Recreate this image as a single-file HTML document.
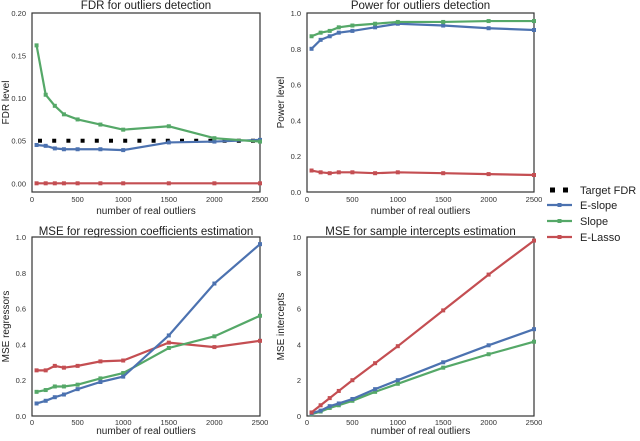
<!DOCTYPE html>
<html><head><meta charset="utf-8"><style>
body{margin:0;background:#fff;}
svg{display:block;font-family:"Liberation Sans",sans-serif;}
</style></head><body>
<svg id="c" width="640" height="441" viewBox="0 0 640 441"></svg>
<script>
const xs=[50,150,250,350,500,750,1000,1500,2000,2500];
const xTicks=[0,500,1000,1500,2000,2500];
const fdrSlope=[0.162,0.104,0.091,0.081,0.075,0.069,0.063,0.067,0.053,0.049];
const fdrESlope=[0.045,0.044,0.041,0.040,0.040,0.040,0.039,0.048,0.049,0.051];
const fdrELasso=[0,0,0,0,0,0,0,0,0,0];
const targetFDR=0.05;
const powSlope=[0.87,0.89,0.90,0.92,0.93,0.94,0.95,0.95,0.955,0.955];
const powESlope=[0.80,0.85,0.87,0.89,0.90,0.92,0.94,0.93,0.915,0.905];
const powELasso=[0.12,0.11,0.105,0.11,0.11,0.105,0.11,0.105,0.10,0.095];
const regESlope=[0.07,0.085,0.105,0.12,0.15,0.19,0.22,0.45,0.74,0.96];
const regSlope=[0.135,0.145,0.165,0.165,0.175,0.21,0.24,0.38,0.445,0.56];
const regELasso=[0.255,0.255,0.28,0.27,0.28,0.305,0.31,0.41,0.385,0.42];
const intESlope=[0.15,0.3,0.55,0.7,0.95,1.5,2.0,3.0,3.95,4.85];
const intSlope=[0.1,0.25,0.45,0.6,0.85,1.35,1.8,2.7,3.45,4.15];
const intELasso=[0.2,0.6,1.0,1.4,2.0,2.95,3.9,5.9,7.9,9.8];
const fdrTicks=["0.00","0.05","0.10","0.15","0.20"];
const powTicks=["0.0","0.2","0.4","0.6","0.8","1.0"];
const regTicks=["0.0","0.2","0.4","0.6","0.8","1.0"];
const intTicks=["0","2","4","6","8","10"];
const C={b:"#4c72b0",g:"#55a868",r:"#c44e52"};
const svg=document.getElementById('c');
const NS="http://www.w3.org/2000/svg";
function mk(t,a,p){const e=document.createElementNS(NS,t);for(const k in a)e.setAttribute(k,a[k]);(p||svg).appendChild(e);return e;}
function panel(id,L,T,R,B,ymin,ymax,ticks,title,ylab,series,target,tOff,tkOff,xlOff){
  const g=mk('g',{});
  
  
  const sx=v=>L+(v-0)/2500*(R-L);
  const sy=v=>B-(v-ymin)/(ymax-ymin)*(B-T);
  mk('rect',{x:L,y:T,width:R-L,height:B-T,fill:'#fff',stroke:'#333','stroke-width':1.2},g);
  const t=mk('text',{x:(L+R)/2,y:T-tOff,'text-anchor':'middle','font-size':11.5,fill:'#222'},g);t.textContent=title;
  
  xTicks.forEach(v=>{const e=mk('text',{x:sx(v),y:B+tkOff,'text-anchor':'middle','font-size':7.5,fill:'#333'},g);e.textContent=v;});
  ticks.forEach(s=>{const e=mk('text',{x:L-6,y:sy(parseFloat(s))+3,'text-anchor':'end','font-size':7.5,fill:'#333'},g);e.textContent=s;});
  const xl=mk('text',{x:(L+R)/2,y:B+xlOff,'text-anchor':'middle','font-size':10,fill:'#222'},g);xl.textContent='number of real outliers';
  
  const yx=L-23,yy=(T+B)/2;
  const yl=mk('text',{x:yx,y:yy,'text-anchor':'middle','font-size':10,fill:'#222',transform:`rotate(-90 ${yx} ${yy})`},g);yl.textContent=ylab;
  
  if(target!==undefined){
    for(let x=L+8;x<R-2;x+=14.2){const m=mk('rect',{x:x-2,y:sy(target)-2,width:4,height:4,fill:'#000'},g);}
  }
  series.forEach(([vals,col,name])=>{
    const pts=xs.map((x,i)=>sx(x)+','+sy(vals[i])).join(' ');
    const pl=mk('polyline',{points:pts,fill:'none',stroke:col,'stroke-width':2.2},g);
    
    xs.forEach((x,i)=>{const m=mk('rect',{x:sx(x)-2,y:sy(vals[i])-2,width:4,height:4,fill:col},g);});
  });
}
panel('fdr',32,13,260,192,-0.0102,0.2,fdrTicks,'FDR for outliers detection','FDR level',
 [[fdrELasso,C.r,'e-lasso'],[fdrESlope,C.b,'e-slope'],[fdrSlope,C.g,'slope']],targetFDR,4,10,22);
panel('power',307,13,534,192,0,1,powTicks,'Power for outliers detection','Power level',
 [[powELasso,C.r,'e-lasso'],[powESlope,C.b,'e-slope'],[powSlope,C.g,'slope']],undefined,4,10,22);
panel('mse-reg',32,237,260,416,0,1,regTicks,'MSE for regression coefficients estimation','MSE regressors',
 [[regELasso,C.r,'e-lasso'],[regSlope,C.g,'slope'],[regESlope,C.b,'e-slope']],undefined,2,9,18);
panel('mse-int',307,237,534,416,0,10,intTicks,'MSE for sample intercepts estimation','MSE intercepts',
 [[intSlope,C.g,'slope'],[intESlope,C.b,'e-slope'],[intELasso,C.r,'e-lasso']],undefined,2,9,18);
const lg=mk('g',{});


const items=[['Target FDR',null,190],['E-slope',C.b,205],['Slope',C.g,221],['E-Lasso',C.r,237]];
items.forEach(([lab,col,y])=>{
  if(!col){mk('rect',{x:550,y:y-2.5,width:5,height:5,fill:'#000'},lg);mk('rect',{x:563,y:y-2.5,width:5,height:5,fill:'#000'},lg);}
  else{mk('line',{x1:547,y1:y,x2:572,y2:y,stroke:col,'stroke-width':2.2},lg);mk('rect',{x:557.5,y:y-2,width:4,height:4,fill:col},lg);}
  const t=mk('text',{x:580,y:y+4,'font-size':11,fill:'#222'},lg);t.textContent=lab;
  
});
</script>
</body></html>
